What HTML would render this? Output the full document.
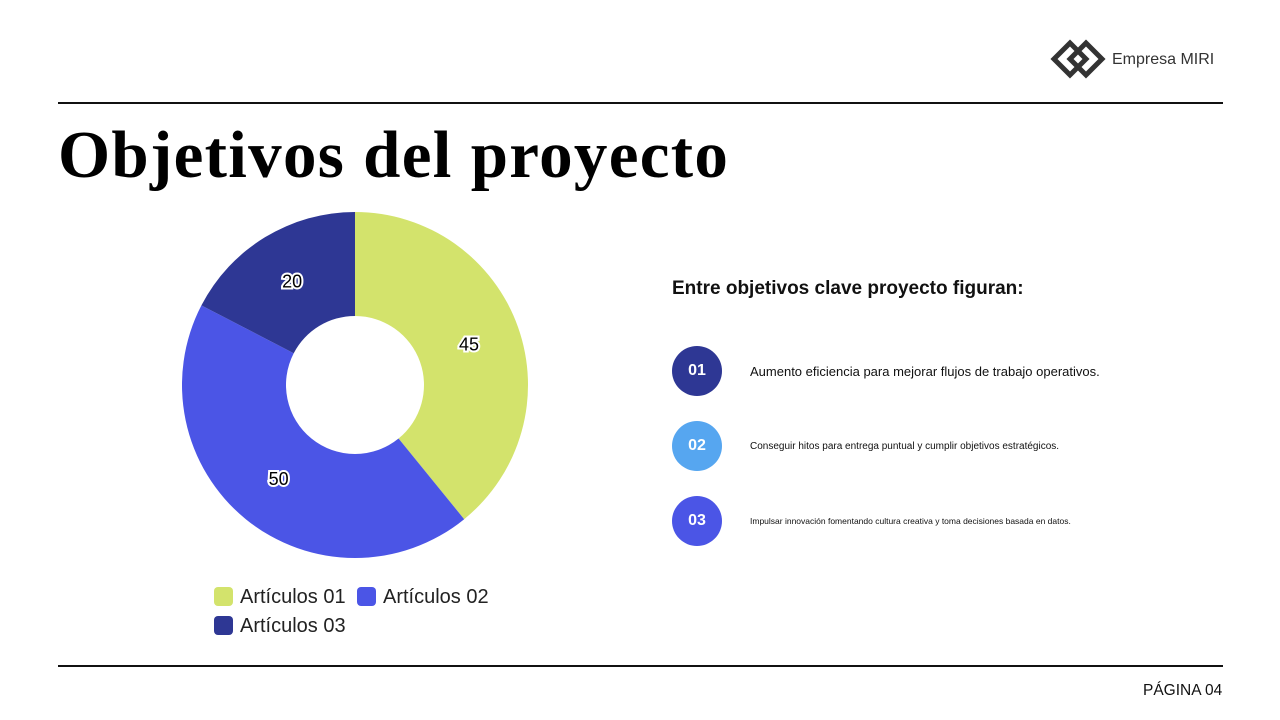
<!DOCTYPE html>
<html><head><meta charset="utf-8"><style>
body{margin:0;width:1280px;height:720px;background:#fff;font-family:"Liberation Sans",sans-serif;position:relative;overflow:hidden}
.abs{position:absolute}
.line{position:absolute;left:58px;width:1165px;height:2px;background:#111}
.num{position:absolute;width:50px;height:50px;border-radius:50%;color:#fff;font-weight:bold;font-size:16px;line-height:50px;text-align:center;left:672px}
.txt{position:absolute;left:750px;color:#111}
</style></head><body>
<svg class="abs" style="left:1050px;top:36px" width="60" height="46">
<path d="M20 7 L36 23 L20 39 L4 23 Z" fill="none" stroke="#333" stroke-width="5"/>
<path d="M36 7 L52 23 L36 39 L20 23 Z" fill="none" stroke="#333" stroke-width="5"/>
</svg>
<div class="abs" style="left:1112px;top:51px;font-size:16px;color:#333">Empresa MIRI</div>
<div class="line" style="top:102px"></div>
<div class="abs" style="left:58px;top:117px;font-family:'Liberation Serif',serif;font-weight:bold;font-size:67px;letter-spacing:1.3px;color:#000">Objetivos del proyecto</div>
<svg class="abs" id="chart" style="left:0;top:0" width="640" height="660"></svg>
<div class="abs" style="left:672px;top:278px;font-size:19px;font-weight:bold;color:#111">Entre objetivos clave proyecto figuran:</div>
<div class="num" style="top:346px;background:#2e3794">01</div>
<div class="txt" style="top:364px;font-size:13px">Aumento eficiencia para mejorar flujos de trabajo operativos.</div>
<div class="num" style="top:421px;background:#56a6f0">02</div>
<div class="txt" style="top:441px;font-size:10px">Conseguir hitos para entrega puntual y cumplir objetivos estratégicos.</div>
<div class="num" style="top:496px;background:#4b55e6">03</div>
<div class="txt" style="top:516px;font-size:8.5px">Impulsar innovación fomentando cultura creativa y toma decisiones basada en datos.</div>
<div class="line" style="top:665px"></div>
<div class="abs" style="left:1143px;top:682px;font-size:15.5px;color:#111">PÁGINA 04</div>
<script>
const categories=["Artículos 01","Artículos 02","Artículos 03"];
const values=[45,50,20];
const colors=["#d3e36c","#4b55e6","#2e3794"];
const svg=document.getElementById('chart');
const NS="http://www.w3.org/2000/svg";
const cx=355,cy=385,R=173,r=69;
const total=values.reduce((a,b)=>a+b,0);
function pt(a,rad){return [cx+rad*Math.sin(a),cy-rad*Math.cos(a)];}
let a0=0;
values.forEach((v,i)=>{
  const a1=a0+v/total*2*Math.PI;
  const large=(a1-a0)>Math.PI?1:0;
  const p0=pt(a0,R),p1=pt(a1,R),q1=pt(a1,r),q0=pt(a0,r);
  const p=document.createElementNS(NS,'path');
  p.setAttribute('d',`M${p0[0]},${p0[1]} A${R},${R} 0 ${large} 1 ${p1[0]},${p1[1]} L${q1[0]},${q1[1]} A${r},${r} 0 ${large} 0 ${q0[0]},${q0[1]} Z`);
  p.setAttribute('fill',colors[i]);
  
  
  svg.appendChild(p);
  const m=(a0+a1)/2,lp=pt(m,(R+r)/2);
  const t=document.createElementNS(NS,'text');
  t.setAttribute('x',lp[0]);t.setAttribute('y',lp[1]+6);
  t.setAttribute('text-anchor','middle');
  t.setAttribute('font-size','18');
  t.setAttribute('font-family','Liberation Sans, sans-serif');
  t.setAttribute('fill','#000');t.setAttribute('stroke','#fff');t.setAttribute('stroke-width','4');
  t.setAttribute('paint-order','stroke');
  t.textContent=v;
  
  
  svg.appendChild(t);
  a0=a1;
});
const lpos=[[214,586],[357,586],[214,615]];
categories.forEach((c,i)=>{
  const g=document.createElementNS(NS,'g');
  
  
  const s=document.createElementNS(NS,'rect');
  s.setAttribute('x',lpos[i][0]);s.setAttribute('y',lpos[i][1]+1);s.setAttribute('width',19);s.setAttribute('height',19);s.setAttribute('rx',4);s.setAttribute('fill',colors[i]);
  g.appendChild(s);
  const t=document.createElementNS(NS,'text');
  t.setAttribute('x',lpos[i][0]+26);t.setAttribute('y',lpos[i][1]+17);
  t.setAttribute('font-size','20');t.setAttribute('font-family','Liberation Sans, sans-serif');t.setAttribute('fill','#222');
  t.textContent=c;
  g.appendChild(t);
  svg.appendChild(g);
});
</script>
</body></html>
